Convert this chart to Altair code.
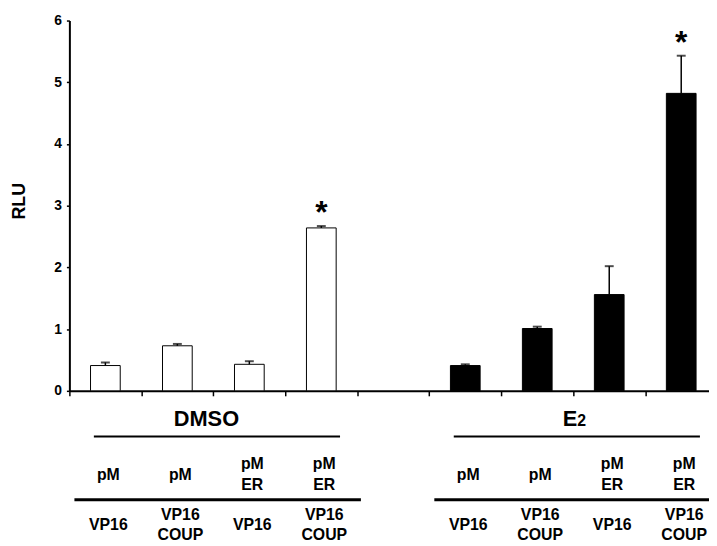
import altair as alt
import pandas as pd

# ---- data ----
groups = ["DMSO", "DMSO", "DMSO", "DMSO", "E2", "E2", "E2", "E2"]
rlu = [0.41, 0.73, 0.43, 2.64, 0.41, 1.01, 1.56, 4.82]
err = [0.05, 0.03, 0.05, 0.03, 0.02, 0.03, 0.46, 0.61]
significant = [False, False, False, True, False, False, False, True]
row1 = ["pM", "pM", "pM\nER", "pM\nER", "pM", "pM", "pM\nER", "pM\nER"]
row2 = ["VP16", "VP16\nCOUP", "VP16", "VP16\nCOUP", "VP16", "VP16\nCOUP", "VP16", "VP16\nCOUP"]
slot_index = [0, 1, 2, 3, 5, 6, 7, 8]   # category slots; slot 4 is the empty gap
group_names = ["DMSO", "E2"]
y_ticks = [0, 1, 2, 3, 4, 5, 6]

df = pd.DataFrame({
    "group": groups, "rlu": rlu, "err": err, "sig": significant,
    "row1": row1, "row2": row2, "slot": slot_index,
})
df["pos"] = df["slot"] + 0.5
df["upper"] = df["rlu"] + df["err"]
df["r1multi"] = df["row1"].str.contains("\n")
df["r2multi"] = df["row2"].str.contains("\n")

gdf = pd.DataFrame({"group": group_names})
gdf["start"] = [df[df.group == g].slot.min() for g in group_names]
gdf["end"] = [df[df.group == g].slot.max() + 1 for g in group_names]
gdf["center"] = (gdf["start"] + gdf["end"]) / 2
gdf["thin_a"] = gdf["start"] + 0.34
gdf["thin_b"] = gdf["start"] + 3.76
gdf["thick_a"] = gdf["start"] + 0.07
gdf["thick_b"] = gdf["start"] + 4.05

FONT = "Liberation Sans"
W, H = 646, 374
xscale = alt.Scale(domain=[0, 8.886], nice=False, zero=False, padding=0)
yscale = alt.Scale(domain=[0, 6], nice=False)

base = alt.Chart(df)

bars = base.mark_bar(size=30, stroke="black", strokeWidth=1).encode(
    x=alt.X("pos:Q", scale=xscale, axis=alt.Axis(
        values=list(range(0, 9)), labels=False, title=None, grid=False,
        domainColor="black", domainWidth=2, tickColor="black", tickWidth=1.5,
        tickSize=5)),
    y=alt.Y("rlu:Q", scale=yscale, axis=alt.Axis(
        values=y_ticks, format="d", grid=False, domainColor="black", domainWidth=2,
        tickColor="black", tickWidth=1.5, tickSize=3, labelFont=FONT,
        labelFontSize=14, labelFontWeight="bold", labelColor="black",
        labelPadding=5, title="RLU", titleFont=FONT, titleFontSize=18,
        titleFontWeight="bold", titleColor="black", titleAngle=270,
        titleX=-50, titleY=182, titleAlign="center", titleBaseline="middle")),
    fill=alt.Fill("group:N", scale=alt.Scale(domain=group_names, range=["white", "black"]), legend=None),
)

err_rule = base.mark_rule(color="black", strokeWidth=1.5).encode(
    x=alt.X("pos:Q", scale=xscale), y=alt.Y("rlu:Q", scale=yscale), y2="upper:Q")
err_cap = base.mark_tick(orient="horizontal", size=9, thickness=2, color="black").encode(
    x=alt.X("pos:Q", scale=xscale), y=alt.Y("upper:Q", scale=yscale))
stars = base.transform_filter("datum.sig").mark_text(
    text="*", font=FONT, fontSize=32, fontWeight="bold", baseline="alphabetic",
    color="black", dy=-3).encode(
    x=alt.X("pos:Q", scale=xscale), y=alt.Y("upper:Q", scale=yscale))


def row_layer(field, flag, multi, y_single, y_multi):
    ch = base.transform_filter(
        f"datum.{flag}" if multi else f"!datum.{flag}"
    ).mark_text(font=FONT, fontSize=16, fontWeight="bold", lineBreak="\n",
                lineHeight=21, baseline="middle", dx=3, color="black")
    return ch.encode(x=alt.X("pos:Q", scale=xscale),
                     y=alt.value(y_multi if multi else y_single),
                     text=f"{field}:N")


row_layers = [
    row_layer("row1", "r1multi", False, 459, 448),
    row_layer("row1", "r1multi", True, 459, 448),
    row_layer("row2", "r2multi", False, 510, 499),
    row_layer("row2", "r2multi", True, 510, 499),
]

gbase = alt.Chart(gdf)
thin = gbase.mark_rule(color="black", strokeWidth=2).encode(
    x=alt.X("thin_a:Q", scale=xscale), x2="thin_b:Q", y=alt.value(420))
thick = gbase.mark_rule(color="black", strokeWidth=3).encode(
    x=alt.X("thick_a:Q", scale=xscale), x2="thick_b:Q", y=alt.value(484))
dmso_lbl = gbase.transform_filter("datum.group == 'DMSO'").mark_text(
    font=FONT, fontSize=22, fontWeight="bold", baseline="alphabetic", dx=-7,
    color="black").encode(
    x=alt.X("center:Q", scale=xscale), y=alt.value(410), text="group:N")
e_lbl = gbase.transform_filter("datum.group == 'E2'").mark_text(
    text="E", font=FONT, fontSize=22, fontWeight="bold", baseline="alphabetic",
    align="right", dx=4, color="black").encode(
    x=alt.X("center:Q", scale=xscale), y=alt.value(410))
two_lbl = gbase.transform_filter("datum.group == 'E2'").mark_text(
    text="2", font=FONT, fontSize=16, fontWeight="bold", baseline="alphabetic",
    align="left", dx=4, color="black").encode(
    x=alt.X("center:Q", scale=xscale), y=alt.value(410))

chart = alt.layer(
    bars, err_rule, err_cap, stars, *row_layers, thin, thick, dmso_lbl, e_lbl, two_lbl
).properties(
    width=W, height=H,
    autosize=alt.AutoSizeParams(type="none"),
    padding={"left": 62, "top": 10, "right": 0, "bottom": 150},
).configure(background="white").configure_view(stroke=None)

chart.save("out.html", embed_options={"renderer": "svg", "actions": False})
